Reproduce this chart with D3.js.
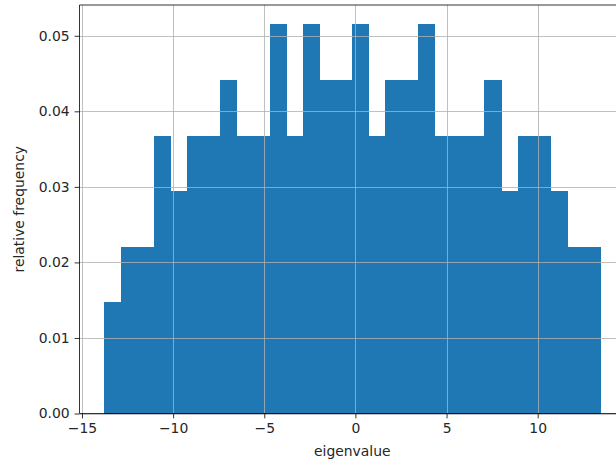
<!DOCTYPE html>
<html>
<head>
<meta charset="utf-8">
<script src="https://cdn.jsdelivr.net/npm/d3@7"></script>
<style>
  html, body { margin: 0; padding: 0; background: #fff; overflow: hidden; }
  svg { display: block; font-family: "DejaVu Sans", sans-serif; }
</style>
</head>
<body>
<div id="chart"></div>
<script>
// histogram bin edges (31 edges -> 30 bins)
const binEdges = [-13.777, -12.870, -11.963, -11.056, -10.149, -9.242, -8.336, -7.429,
  -6.522, -5.615, -4.708, -3.801, -2.894, -1.987, -1.080, -0.173, 0.733, 1.640,
  2.547, 3.454, 4.361, 5.268, 6.175, 7.082, 7.989, 8.896, 9.802, 10.709, 11.616,
  12.523, 13.430];
// relative frequency of each bin
const frequencies = [0.0147, 0.0221, 0.0221, 0.0368, 0.0294, 0.0368, 0.0368, 0.0441,
  0.0368, 0.0368, 0.0515, 0.0368, 0.0515, 0.0441, 0.0441, 0.0515, 0.0368, 0.0441,
  0.0441, 0.0515, 0.0368, 0.0368, 0.0368, 0.0441, 0.0294, 0.0368, 0.0368, 0.0294,
  0.0221, 0.0221];
const xTicks = [-15, -10, -5, 0, 5, 10];
const yTicks = [0, 0.01, 0.02, 0.03, 0.04, 0.05];

const W = 616, H = 466;
const plotLeft = 79.5, plotRight = 625, plotTop = 5, plotBottom = 413.5;
const fontSize = 13.9;
const barColor = "#1f77b4";
const gridColor = "#b0b0b0";

const bins = frequencies.map((f, i) => ({ x0: binEdges[i], x1: binEdges[i + 1], f: f }));

// matplotlib-style 5% x margin, y from 0 with 5% headroom
const lo = binEdges[0], hi = binEdges[binEdges.length - 1];
const pad = (hi - lo) * 0.05;
const x = d3.scaleLinear().domain([lo - pad, hi + pad]).range([plotLeft, plotRight]);
const y = d3.scaleLinear().domain([0, d3.max(frequencies) * 1.05]).range([plotBottom, plotTop]);

const svg = d3.select("#chart").append("svg")
  .attr("width", W)
  .attr("height", H);

// bars
svg.append("g")
  .attr("shape-rendering", "crispEdges")
  .selectAll("rect")
  .data(bins)
  .enter()
  .append("rect")
  .attr("x", d => x(d.x0))
  .attr("y", d => y(d.f))
  .attr("width", d => x(d.x1) - x(d.x0) + 0.5)
  .attr("height", d => y(0) - y(d.f))
  .attr("fill", barColor);

// grid (drawn above the bars, like matplotlib)
const grid = svg.append("g").attr("stroke", gridColor).attr("stroke-width", 0.8);
grid.selectAll(".gx")
  .data(xTicks)
  .enter()
  .append("line")
  .attr("x1", d => Math.round(x(d)) + 0.5)
  .attr("x2", d => Math.round(x(d)) + 0.5)
  .attr("y1", plotTop)
  .attr("y2", plotBottom);
grid.selectAll(".gy")
  .data(yTicks)
  .enter()
  .append("line")
  .attr("x1", plotLeft)
  .attr("x2", plotRight)
  .attr("y1", d => Math.round(y(d)) + 0.5)
  .attr("y2", d => Math.round(y(d)) + 0.5);

// axes
const xAxis = d3.axisBottom(x)
  .tickValues(xTicks)
  .tickSizeInner(4.9)
  .tickSizeOuter(0)
  .tickPadding(4.9)
  .tickFormat(d3.format("d"));
const yAxis = d3.axisLeft(y)
  .tickValues(yTicks)
  .tickSizeInner(4.9)
  .tickSizeOuter(0)
  .tickPadding(4.9)
  .tickFormat(d3.format(".2f"));

const gx = svg.append("g")
  .attr("transform", "translate(0," + plotBottom + ")")
  .call(xAxis);
const gy = svg.append("g")
  .attr("transform", "translate(" + plotLeft + ",0)")
  .call(yAxis);

[gx, gy].forEach(g => {
  g.select(".domain").remove();
  g.selectAll(".tick line").attr("stroke", "#000").attr("stroke-width", 0.8);
  g.selectAll(".tick text")
    .attr("fill", "#262626")
    .style("font-size", fontSize + "px")
    .style("font-family", "'DejaVu Sans', sans-serif");
});

// spines
const spines = svg.append("g").attr("stroke", "#000").attr("stroke-width", 0.8).attr("fill", "none");
spines.append("line").attr("x1", plotLeft).attr("x2", plotLeft).attr("y1", plotTop).attr("y2", plotBottom);
spines.append("line").attr("x1", plotLeft).attr("x2", plotRight).attr("y1", plotBottom).attr("y2", plotBottom);
spines.append("line").attr("x1", plotLeft).attr("x2", plotRight).attr("y1", plotTop).attr("y2", plotTop);
spines.append("line").attr("x1", plotRight).attr("x2", plotRight).attr("y1", plotTop).attr("y2", plotBottom);

// axis labels
svg.append("text")
  .attr("x", (plotLeft + plotRight) / 2)
  .attr("y", 455.5)
  .attr("text-anchor", "middle")
  .attr("fill", "#262626")
  .style("font-size", fontSize + "px")
  .text("eigenvalue");

svg.append("text")
  .attr("transform", "translate(24," + ((plotTop + plotBottom) / 2) + ") rotate(-90)")
  .attr("text-anchor", "middle")
  .attr("fill", "#262626")
  .style("font-size", fontSize + "px")
  .text("relative frequency");
</script>
</body>
</html>
